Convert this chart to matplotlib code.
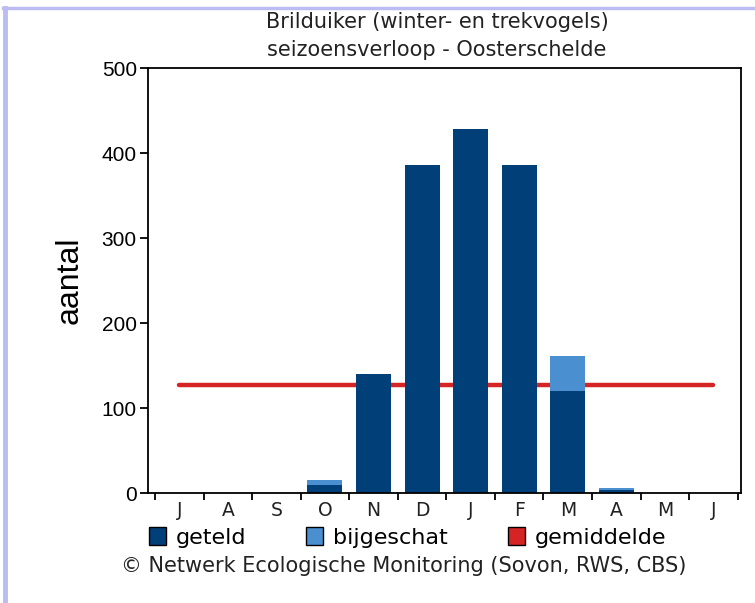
import matplotlib
matplotlib.use('Agg')
import matplotlib.pyplot as plt
from matplotlib.patches import Patch
from matplotlib.lines import Line2D
import numpy as np

# data
maanden = ['J', 'A', 'S', 'O', 'N', 'D', 'J', 'F', 'M', 'A', 'M', 'J']
geteld = [0, 0, 0, 10, 140, 386, 428, 386, 120, 3, 0, 0]
bijgeschat = [0, 0, 0, 5, 0, 0, 0, 0, 41, 3, 0, 0]
gemiddelde = 127

donker = '#003f78'
licht = '#4a8fd0'
rood = '#d42424'
tfont = 'DejaVu Sans'
afont = 'Liberation Sans'

fig = plt.figure(figsize=(7.55, 6.03), dpi=100)
ax = fig.add_axes([0.196, 0.1824, 0.785, 0.7048])

x = np.arange(len(maanden)) + 0.5
# gemiddelde ligt achter de staven
ax.plot([x[0], x[-1]], [gemiddelde, gemiddelde], color=rood, lw=3.2,
        solid_capstyle='round', zorder=1)
ax.bar(x, geteld, width=0.72, color=donker, linewidth=0, zorder=2)
ax.bar(x, bijgeschat, width=0.72, bottom=geteld, color=licht, linewidth=0, zorder=2)

ax.set_ylim(0, 500)
ax.set_xlim(-0.144, 12.06)
ax.set_yticks([0, 100, 200, 300, 400, 500])
ax.set_xticks(np.arange(13))
ax.set_xticklabels([])
ax.set_xticks(x, minor=True)
ax.set_xticklabels(maanden, minor=True, fontsize=13.5, family=tfont, color='#222222')
ax.tick_params(axis='x', which='minor', length=0, pad=6)
ax.tick_params(axis='x', which='major', length=5, width=1.3, direction='out')
ax.tick_params(axis='y', length=6, width=1.3, direction='out', labelsize=15, pad=2)
for lab in ax.get_yticklabels():
    lab.set_family(afont)
ax.set_ylabel('aantal', fontsize=23, family=afont, labelpad=12)
for s in ax.spines.values():
    s.set_linewidth(1.3)

# titel
fig.text(0.579, 0.964, 'Brilduiker (winter- en trekvogels)', ha='center', va='center',
         fontsize=15, family=tfont, color='#222222')
fig.text(0.579, 0.917, 'seizoensverloop - Oosterschelde', ha='center', va='center',
         fontsize=15, family=tfont, color='#222222')

# legenda
handles = [Patch(facecolor=donker, edgecolor='black', lw=1),
           Patch(facecolor=licht, edgecolor='black', lw=1),
           Patch(facecolor=rood, edgecolor='black', lw=1)]
fig.legend(handles, ['geteld', 'bijgeschat', 'gemiddelde'], ncol=3, loc='center',
           bbox_to_anchor=(0.540, 0.109), frameon=False,
           prop={'family': tfont, 'size': 16}, handlelength=0.75, handleheight=0.85,
           handletextpad=0.45, columnspacing=2.7, borderpad=0, borderaxespad=0)
fig.text(0.535, 0.061, '\u00a9 Netwerk Ecologische Monitoring (Sovon, RWS, CBS)',
         ha='center', va='center', fontsize=15, family=tfont, color='#222222')

# rand
fig.add_artist(Line2D([0.0066, 0.0066], [0, 0.986], color='#bcbcf4', lw=3.5,
                      transform=fig.transFigure))
fig.add_artist(Line2D([0.0045, 1], [0.986, 0.986], color='#bcbcf4', lw=2.5,
                      transform=fig.transFigure))

fig.savefig('out.png', dpi=100)
